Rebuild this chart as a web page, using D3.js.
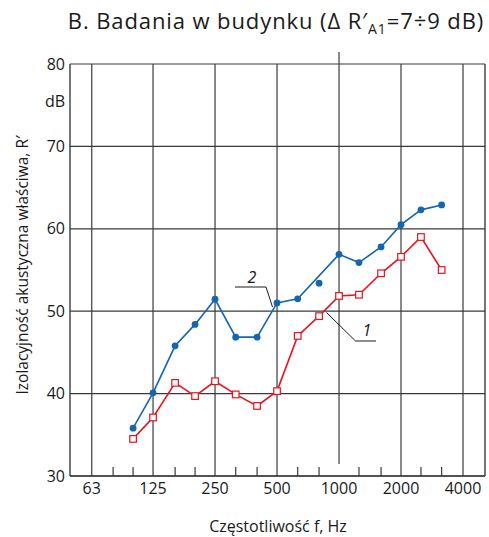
<!DOCTYPE html>
<html><head><meta charset="utf-8">
<script src="https://cdn.jsdelivr.net/npm/d3@7"></script>
<style>
html,body{margin:0;padding:0;background:#fff;}
svg{display:block;font-family:"Open Sans","Noto Sans",sans-serif;}
</style></head>
<body><svg id="c" width="489" height="537"></svg>
<script>
// Data
const freqs = [100,125,160,200,250,315,400,500,630,800,1000,1250,1600,2000,2500,3150];
const series1 = [34.5,37.1,41.3,39.7,41.5,39.9,38.5,40.3,47.0,49.4,51.85,52.0,54.6,56.6,59.0,55.0]; // curve 1 (red squares)
const series2 = [35.8,40.1,45.8,48.4,51.45,46.85,46.85,51.0,51.5,53.4,56.9,55.9,57.8,60.5,62.3,62.9]; // curve 2 (blue dots)
const series2LineSkip = [800];
const octaveTicks = [63,125,250,500,1000,2000,4000];
const minorTicks = [80,100,160,200,315,400,630,800,1250,1600,2500,3150];
const yTicks = [30,40,50,60,70,80];
const titleText = ["B. Badania w budynku (Δ R′","A1","=7÷9 dB)"];
const yLabel = "Izolacyjność akustyczna właściwa, R′";
const xLabel = "Częstotliwość f, Hz";
const yUnit = "dB";

const svg = d3.select("#c");
const L=70, R=485, T=64, B=476;
const x = d3.scaleLog().base(2).domain([49.4, 5115]).range([L, R]);
const y = d3.scaleLinear().domain([30,80]).range([B, T]);
const grid = "#3a3a3a";

// horizontal grid
svg.append("g").selectAll("line").data(yTicks).join("line")
  .attr("x1",L).attr("x2",R).attr("y1",d=>y(d)).attr("y2",d=>y(d))
  .attr("stroke",grid).attr("stroke-width",1.2);
// vertical octave grid
svg.append("g").selectAll("line").data(octaveTicks).join("line")
  .attr("x1",d=>x(d)).attr("x2",d=>x(d))
  .attr("y1",d=>d===1000? T-12 : T)
  .attr("y2",d=>d===1000? B-12 : B)
  .attr("stroke",grid).attr("stroke-width",1.2);
// minor ticks
svg.append("g").selectAll("line").data(minorTicks).join("line")
  .attr("x1",d=>x(d)).attr("x2",d=>x(d)).attr("y1",B).attr("y2",B-9)
  .attr("stroke",grid).attr("stroke-width",1.2);
// frame (left, right, bottom)
svg.append("line").attr("x1",L).attr("x2",L).attr("y1",T).attr("y2",B).attr("stroke",grid).attr("stroke-width",1.4);
svg.append("line").attr("x1",R).attr("x2",R).attr("y1",T).attr("y2",B).attr("stroke",grid).attr("stroke-width",1.4);
svg.append("line").attr("x1",L).attr("x2",R).attr("y1",B).attr("y2",B).attr("stroke",grid).attr("stroke-width",1.4);

// y tick labels
svg.append("g").selectAll("text").data(yTicks).join("text")
  .attr("x",L-5).attr("y",d=>y(d)+5.5).attr("text-anchor","end")
  .attr("font-size",16).attr("fill","#1a1a1a").text(d=>d);
svg.append("text").attr("x",L-5).attr("y",107).attr("text-anchor","end")
  .attr("font-size",16).attr("fill","#1a1a1a").text(yUnit);
// x tick labels
svg.append("g").selectAll("text").data(octaveTicks).join("text")
  .attr("x",d=>x(d)).attr("y",B+18).attr("text-anchor","middle")
  .attr("font-size",16).attr("fill","#1a1a1a").text(d=>d);
// axis titles
svg.append("text").attr("x",278).attr("y",532).attr("text-anchor","middle")
  .attr("font-size",16).attr("fill","#1a1a1a").text(xLabel);
svg.append("text").attr("transform","translate(27.5,265) rotate(-90)").attr("text-anchor","middle")
  .attr("font-size",15.5).attr("fill","#1a1a1a").text(yLabel);
// title
const tt = svg.append("text").attr("x",276).attr("y",29).attr("text-anchor","middle")
  .attr("font-size",22).attr("letter-spacing",0.9).attr("fill","#1a1a1a");
tt.append("tspan").text(titleText[0]);
tt.append("tspan").attr("font-size",14).attr("dy",5).text(titleText[1]);
tt.append("tspan").attr("dy",-5).text(titleText[2]);

const blue = "#1565b0", red = "#e3141e";
const line = d3.line().x(d=>x(d[0])).y(d=>y(d[1]));
const pts2 = freqs.map((f,i)=>[f,series2[i]]);
const pts1 = freqs.map((f,i)=>[f,series1[i]]);

svg.append("path").attr("d",line(pts2.filter(p=>!series2LineSkip.includes(p[0]))))
  .attr("fill","none").attr("stroke",blue).attr("stroke-width",1.6);
svg.append("path").attr("d",line(pts1))
  .attr("fill","none").attr("stroke",red).attr("stroke-width",1.6);
svg.append("g").selectAll("circle").data(pts2).join("circle")
  .attr("cx",d=>x(d[0])).attr("cy",d=>y(d[1])).attr("r",3.4).attr("fill",blue);
svg.append("g").selectAll("rect").data(pts1).join("rect")
  .attr("x",d=>x(d[0])-3.3).attr("y",d=>y(d[1])-3.3).attr("width",6.6).attr("height",6.6)
  .attr("fill","#fff").attr("stroke",red).attr("stroke-width",1.2);

// curve labels with leader lines
svg.append("polyline").attr("points",[[235,287],[266,287],[272.5,307]].join(" "))
  .attr("fill","none").attr("stroke","#1a1a1a").attr("stroke-width",1);
svg.append("text").attr("x",252).attr("y",283).attr("text-anchor","middle")
  .attr("font-size",16).attr("font-style","italic").attr("fill","#1a1a1a").text("2");
svg.append("polyline").attr("points",[[326.5,312.5],[355.5,341],[376,341]].join(" "))
  .attr("fill","none").attr("stroke","#1a1a1a").attr("stroke-width",1);
svg.append("text").attr("x",367).attr("y",336).attr("text-anchor","middle")
  .attr("font-size",16).attr("font-style","italic").attr("fill","#1a1a1a").text("1");
</script></body></html>
